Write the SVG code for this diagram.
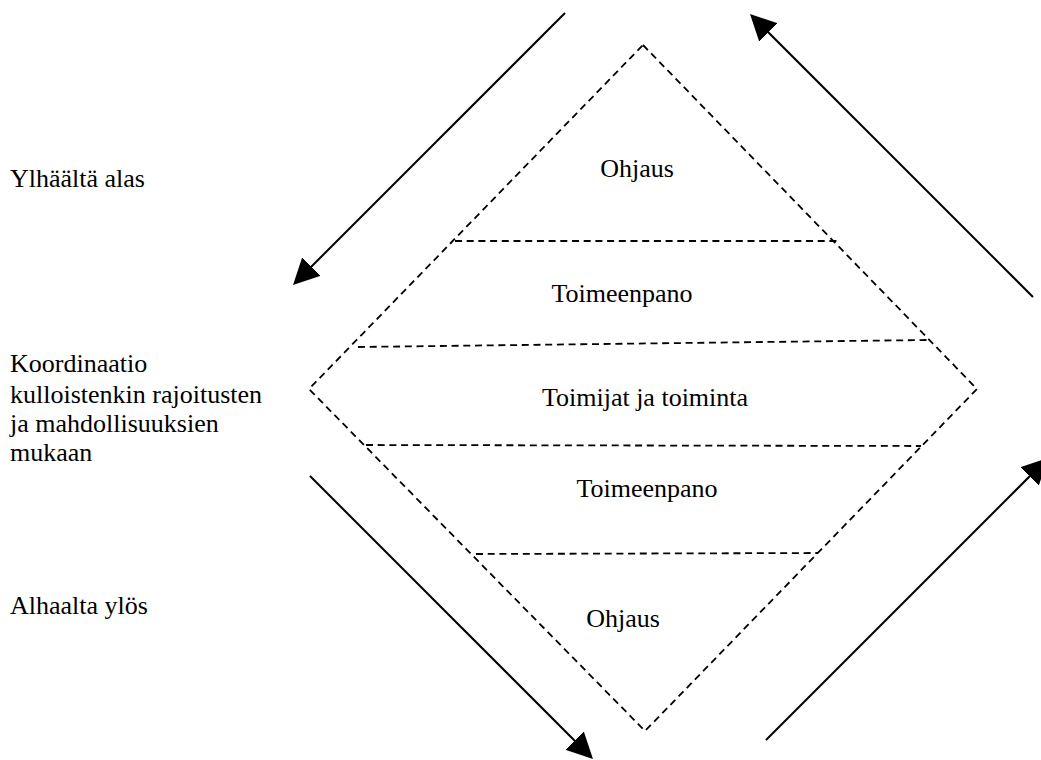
<svg xmlns="http://www.w3.org/2000/svg" width="1041" height="760" viewBox="0 0 1041 760">
  <style>
    .lbl { font-family: "Liberation Serif", "Times New Roman", serif; font-size: 26px; fill: #000; }
    .mid { text-anchor: middle; }
    .dash { fill: none; stroke: #000; stroke-width: 1.8; stroke-dasharray: 7 4.7; }
    .arrow { fill: none; stroke: #000; stroke-width: 2; marker-end: url(#head); }
  </style>
  <defs>
    <marker id="head" viewBox="0 0 26 26" markerWidth="26" markerHeight="26" markerUnits="userSpaceOnUse" refX="14" refY="13" orient="auto">
      <path d="M0,0 L26,13 L0,26 z" fill="#000"/>
    </marker>
  </defs>
  <rect width="1041" height="760" fill="#fff"/>

  <!-- side labels -->
  <g id="side-labels">
    <text class="lbl" x="10" y="187">Ylhäältä alas</text>
    <text class="lbl" x="10" y="372">Koordinaatio</text>
    <text class="lbl" x="10" y="403">kulloistenkin rajoitusten</text>
    <text class="lbl" x="10" y="432">ja mahdollisuuksien</text>
    <text class="lbl" x="10" y="461">mukaan</text>
    <text class="lbl" x="10" y="614">Alhaalta ylös</text>
  </g>

  <!-- dashed diamond with its layer dividers -->
  <g id="diamond">
    <polygon class="dash" points="643,45 977,389 645,731 309,389"/>
    <line class="dash" x1="455" y1="241" x2="838" y2="241"/>
    <line class="dash" x1="358" y1="347" x2="927" y2="340"/>
    <line class="dash" x1="366" y1="445" x2="921" y2="446"/>
    <line class="dash" x1="476" y1="554" x2="818" y2="553"/>
  </g>

  <g id="layer-top-ohjaus"><text class="lbl mid" x="637" y="177">Ohjaus</text></g>
  <g id="layer-top-toimeenpano"><text class="lbl mid" x="622" y="302">Toimeenpano</text></g>
  <g id="layer-toimijat"><text class="lbl mid" x="645" y="406">Toimijat ja toiminta</text></g>
  <g id="layer-bottom-toimeenpano"><text class="lbl mid" x="647" y="497">Toimeenpano</text></g>
  <g id="layer-bottom-ohjaus"><text class="lbl mid" x="623" y="627">Ohjaus</text></g>

  <!-- direction arrows -->
  <g id="connectors">
    <line class="arrow" x1="565" y1="13" x2="301.5" y2="276.5"/>
    <line class="arrow" x1="1033" y1="297" x2="758.5" y2="22.5"/>
    <line class="arrow" x1="310" y1="476" x2="584.5" y2="750.5"/>
    <line class="arrow" x1="766" y1="740" x2="1039.5" y2="466.5"/>
  </g>
</svg>
